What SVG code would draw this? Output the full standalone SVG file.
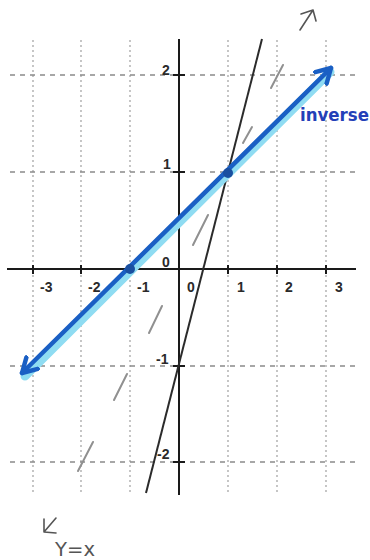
<svg xmlns="http://www.w3.org/2000/svg" width="370" height="560" viewBox="0 0 370 560">
<style>
.vgrid{stroke:#a0a0a0;stroke-width:1.2;stroke-dasharray:2 3;fill:none}
.hgrid{stroke:#8a8a8a;stroke-width:1.3;stroke-dasharray:5 5;fill:none}
.axis{stroke:#1a1a1a;stroke-width:2;fill:none}
.tick{stroke:#1a1a1a;stroke-width:2}
.lbl{font-family:"Liberation Sans",Arial,sans-serif;font-weight:bold;font-size:14px;fill:#2a2a2a}
.yx{stroke:#909090;stroke-width:2;stroke-linecap:round}
.hand{fill:none;stroke:#555;stroke-width:1.6;stroke-linecap:round;stroke-linejoin:round}
</style>
<defs>
<marker id="bluehead" viewBox="0 0 10 10" refX="8" refY="5" markerWidth="4.5" markerHeight="4.5" orient="auto-start-reverse" markerUnits="strokeWidth">
<path d="M1,1 L8,5 L1,9" fill="none" stroke="#1a5fc4" stroke-width="2.2" stroke-linejoin="round" stroke-linecap="round"/>
</marker>
</defs>
<g id="grid">
<line class="vgrid" x1="33" y1="40" x2="33" y2="495"/>
<line class="vgrid" x1="81" y1="40" x2="81" y2="495"/>
<line class="vgrid" x1="130" y1="40" x2="130" y2="495"/>
<line class="vgrid" x1="228" y1="40" x2="228" y2="495"/>
<line class="vgrid" x1="277" y1="40" x2="277" y2="495"/>
<line class="vgrid" x1="326" y1="40" x2="326" y2="495"/>
<line class="hgrid" x1="10" y1="75" x2="356" y2="75"/>
<line class="hgrid" x1="10" y1="172" x2="356" y2="172"/>
<line class="hgrid" x1="10" y1="366" x2="356" y2="366"/>
<line class="hgrid" x1="10" y1="462" x2="356" y2="462"/>
</g>
<g id="axes">
<line class="axis" x1="7" y1="269" x2="356" y2="269"/>
<line class="axis" x1="179" y1="39" x2="179" y2="495"/>
<line class="tick" x1="33" y1="265" x2="33" y2="274"/>
<line class="tick" x1="81" y1="265" x2="81" y2="274"/>
<line class="tick" x1="130" y1="265" x2="130" y2="274"/>
<line class="tick" x1="228" y1="265" x2="228" y2="274"/>
<line class="tick" x1="277" y1="265" x2="277" y2="274"/>
<line class="tick" x1="326" y1="265" x2="326" y2="274"/>
<line class="tick" x1="173" y1="75" x2="185" y2="75"/>
<line class="tick" x1="173" y1="172" x2="185" y2="172"/>
<line class="tick" x1="173" y1="366" x2="185" y2="366"/>
<line class="tick" x1="173" y1="462" x2="185" y2="462"/>
</g>
<g id="labels">
<text class="lbl" x="162" y="75">2</text>
<text class="lbl" x="163" y="169">1</text>
<text class="lbl" x="162" y="267">0</text>
<text class="lbl" x="40" y="292">-3</text>
<text class="lbl" x="88" y="292">-2</text>
<text class="lbl" x="137" y="292">-1</text>
<text class="lbl" x="187" y="292">0</text>
<text class="lbl" x="237" y="292">1</text>
<text class="lbl" x="285" y="292">2</text>
<text class="lbl" x="335" y="292">3</text>
<text class="lbl" x="156" y="364">-1</text>
<text class="lbl" x="157" y="459">-2</text>
</g>
<g id="line-y-eq-x">
<line class="yx" x1="271" y1="88" x2="283" y2="65"/>
<line class="yx" x1="243" y1="143" x2="252" y2="127"/>
<line class="yx" x1="193" y1="245" x2="208" y2="215"/>
<line class="yx" x1="149" y1="333" x2="162" y2="306"/>
<line class="yx" x1="114" y1="400" x2="127" y2="374"/>
<line class="yx" x1="78" y1="471" x2="93" y2="442"/>
</g>
<g id="line-function">
<line x1="146" y1="493" x2="262" y2="39" stroke="#2b2b2b" stroke-width="2"/>
</g>
<g id="inverse-line">
<line x1="24" y1="374" x2="329" y2="70" stroke="#8fdcf2" stroke-width="9" stroke-linecap="round" transform="translate(1,2)"/>
<line x1="22" y1="373" x2="331" y2="68" stroke="#1a5fc4" stroke-width="4.5" stroke-linecap="round" marker-start="url(#bluehead)" marker-end="url(#bluehead)"/>
<circle cx="130" cy="269" r="5" fill="#1a4fa0"/>
<circle cx="228" cy="173" r="5" fill="#1a4fa0"/>
<text x="300" y="121" font-family="'DejaVu Sans Condensed','DejaVu Sans',sans-serif" font-weight="bold" font-size="18" fill="#2340b8" textLength="69" lengthAdjust="spacingAndGlyphs">inverse</text>
</g>
<g id="annotations">
<path class="hand" d="M300,30 L313,10 M301,14 L313,10 L316,21"/>
<path class="hand" d="M56,518 L44,532 M44,519 L44,532 L56,533"/>
<text x="55" y="556" font-family="'DejaVu Sans',sans-serif" font-size="20" fill="#555" textLength="40" lengthAdjust="spacingAndGlyphs">Y=x</text>
</g>
</svg>
